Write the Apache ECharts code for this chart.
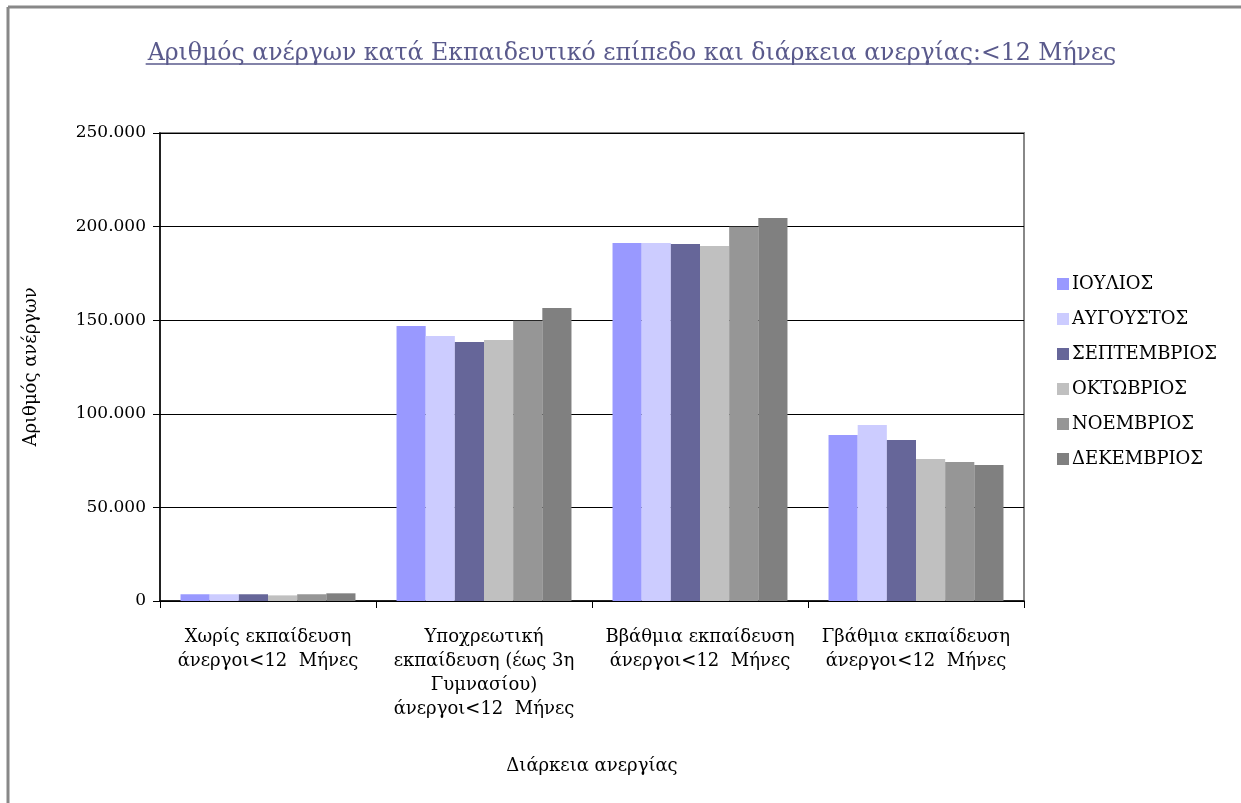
<!DOCTYPE html>
<html>
<head>
<meta charset="utf-8">
<script src="https://cdn.jsdelivr.net/npm/echarts@6/dist/echarts.min.js"></script>
<style>
html,body{margin:0;padding:0;background:#fff;}
#chart{width:1241px;height:803px;}
</style>
</head>
<body>
<div id="chart"></div>
<script>
const categories = [
  'Χωρίς εκπαίδευση\nάνεργοι<12  Μήνες',
  'Υποχρεωτική\nεκπαίδευση (έως 3η\nΓυμνασίου)\nάνεργοι<12  Μήνες',
  'Ββάθμια εκπαίδευση\nάνεργοι<12  Μήνες',
  'Γβάθμια εκπαίδευση\nάνεργοι<12  Μήνες'
];
const seriesNames = ['ΙΟΥΛΙΟΣ','ΑΥΓΟΥΣΤΟΣ','ΣΕΠΤΕΜΒΡΙΟΣ','ΟΚΤΩΒΡΙΟΣ','ΝΟΕΜΒΡΙΟΣ','ΔΕΚΕΜΒΡΙΟΣ'];
const iouliosValues     = [3600, 146900, 191200, 88700];
const augoustosValues   = [3600, 141600, 191200, 94000];
const septemvriosValues = [3600, 138400, 190700, 86000];
const oktovriosValues   = [3000, 139400, 189600, 75900];
const noemvriosValues   = [3600, 149700, 199900, 74300];
const dekemvriosValues  = [4100, 156500, 204600, 72700];
const seriesColors = ['#9999ff','#ccccff','#666699','#c0c0c0','#969696','#808080'];
const yTicks = [0, 50000, 100000, 150000, 200000, 250000];

const titleText = 'Αριθμός ανέργων κατά Εκπαιδευτικό επίπεδο και διάρκεια ανεργίας:<12 Μήνες';
const FONT = '"DejaVu Serif", serif';
const titleSize = 23.6;

const cv = document.createElement('canvas').getContext('2d');
cv.font = titleSize + 'px ' + FONT;
const titleW = cv.measureText(titleText).width;
const titleCx = 627;

const allValues = [iouliosValues, augoustosValues, septemvriosValues, oktovriosValues, noemvriosValues, dekemvriosValues];

const chart = echarts.init(document.getElementById('chart'), null, {renderer:'canvas'});
chart.setOption({
  animation: false,
  backgroundColor: '#fff',
  textStyle: {fontFamily: FONT},
  title: {
    text: titleText,
    left: titleCx, top: 37,
    textAlign: 'center',
    textStyle: {fontFamily: FONT, fontSize: titleSize, fontWeight: 'normal', color: '#5a5a8c'}
  },
  graphic: [
    {type:'line', shape:{x1:titleCx - titleW/2 + 3, y1:64, x2:titleCx + titleW/2, y2:64}, style:{stroke:'#5a5a8c', lineWidth:1.5}},
    {type:'line', shape:{x1:8, y1:7, x2:1241, y2:7}, style:{stroke:'#888', lineWidth:3}},
    {type:'line', shape:{x1:8, y1:7, x2:8, y2:803}, style:{stroke:'#888', lineWidth:3}}
  ],
  legend: {
    orient: 'vertical',
    left: 1052, top: 270,
    itemWidth: 12, itemHeight: 12,
    itemGap: 17,
    icon: 'rect',
    data: seriesNames,
    textStyle: {fontFamily: FONT, fontSize: 18, color: '#000', padding:[0,0,0,-2]}
  },
  grid: {
    left: 160, top: 133, right: 217, bottom: 202,
    show: true, borderColor: '#888', borderWidth: 2, backgroundColor: '#fff'
  },
  xAxis: {
    type: 'category',
    data: categories,
    name: 'Διάρκεια ανεργίας',
    nameLocation: 'middle',
    nameGap: 156,
    nameTextStyle: {fontFamily: FONT, fontSize: 18, color: '#000'},
    axisLine: {lineStyle: {color: '#000', width: 1.5}},
    axisTick: {show: true, length: 7, lineStyle: {color: '#000'}},
    axisLabel: {fontFamily: FONT, fontSize: 18, color: '#000', lineHeight: 24, margin: 24, interval: 0}
  },
  yAxis: {
    type: 'value',
    min: 0, max: 250000, interval: 50000,
    name: 'Αριθμός ανέργων',
    nameLocation: 'middle',
    nameGap: 120,
    nameRotate: 90,
    nameTextStyle: {fontFamily: FONT, fontSize: 18, color: '#000'},
    axisLine: {show: true, lineStyle: {color: '#000', width: 1.5}},
    axisTick: {show: true, length: 7, lineStyle: {color: '#000'}},
    splitLine: {lineStyle: {color: '#000', width: 1}},
    axisLabel: {
      fontFamily: FONT, fontSize: 17, color: '#000', margin: 14,
      formatter: v => v === 0 ? '0' : v.toLocaleString('de-DE').replace(/,/g,'.')
    }
  },
  series: seriesNames.map((n, i) => ({
    name: n,
    type: 'bar',
    data: allValues[i],
    barGap: '0%',
    barCategoryGap: '19%',
    itemStyle: {color: seriesColors[i]}
  }))
});
</script>
</body>
</html>
